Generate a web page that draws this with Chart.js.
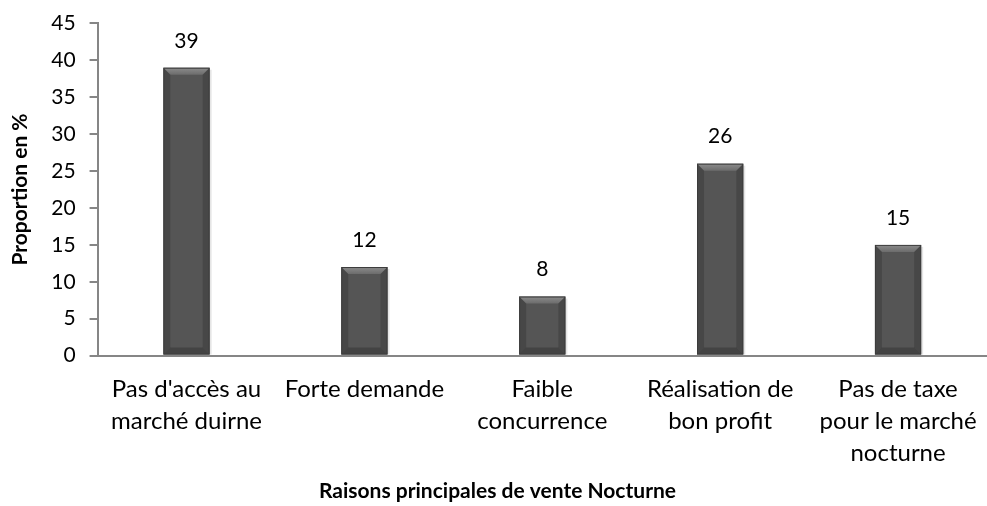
<!doctype html>
<html lang="fr">
<head>
<meta charset="UTF-8">
<title>Raisons principales de vente Nocturne</title>
<script src="https://cdn.jsdelivr.net/npm/chart.js"></script>
<style>
  html, body { margin: 0; padding: 0; background: #fff; }
  #wrap { width: 987px; height: 506px; }
</style>
</head>
<body>
<div id="wrap"><canvas id="raisons" width="987" height="506"></canvas></div>
<script>
  const categories = [
    ["Pas d'accès au", "marché duirne"],
    ["Forte demande"],
    ["Faible", "concurrence"],
    ["Réalisation de", "bon profit"],
    ["Pas de taxe", "pour le marché", "nocturne"]
  ];
  const proportions = [39, 12, 8, 26, 15];

  const FONT = "Lato, 'Open Sans', sans-serif";

  // shading across the width of each bar
  function barFill(ctx) {
    const el = ctx.element;
    const c = ctx.chart.ctx;
    if (!el || el.width === undefined) return '#555';
    const l = el.x - el.width / 2, r = el.x + el.width / 2;
    const g = c.createLinearGradient(l, 0, r, 0);
    g.addColorStop(0, '#3a3a3a');
    g.addColorStop(0.14, '#565656');
    g.addColorStop(0.5, '#5e5e5e');
    g.addColorStop(0.86, '#565656');
    g.addColorStop(1, '#3a3a3a');
    return g;
  }

  // bevelled edges plus the value above each bar
  const bevelAndLabels = {
    id: 'bevelAndLabels',
    afterDatasetsDraw(chart) {
      const c = chart.ctx;
      const meta = chart.getDatasetMeta(0);
      meta.data.forEach((bar, i) => {
        const l = bar.x - bar.width / 2, r = bar.x + bar.width / 2;
        const t = bar.y, b = bar.base;
        const d = 7;
        c.save();
        // soft shadow on the right
        c.fillStyle = 'rgba(0,0,0,0.10)';
        c.fillRect(r, t + 2, 2, b - t - 2);
        // top facet
        let g = c.createLinearGradient(0, t, 0, t + d);
        g.addColorStop(0, '#8c8c8c');
        g.addColorStop(1, '#6c6c6c');
        c.fillStyle = g;
        c.beginPath();
        c.moveTo(l, t); c.lineTo(r, t); c.lineTo(r - d, t + d); c.lineTo(l + d, t + d);
        c.closePath(); c.fill();
        // bottom facet
        c.fillStyle = 'rgba(40,40,40,0.40)';
        c.beginPath();
        c.moveTo(l, b); c.lineTo(r, b); c.lineTo(r - d, b - d); c.lineTo(l + d, b - d);
        c.closePath(); c.fill();
        // side facets
        c.fillStyle = 'rgba(30,30,30,0.25)';
        c.beginPath();
        c.moveTo(l, t); c.lineTo(l + d, t + d); c.lineTo(l + d, b - d); c.lineTo(l, b);
        c.closePath(); c.fill();
        c.beginPath();
        c.moveTo(r, t); c.lineTo(r - d, t + d); c.lineTo(r - d, b - d); c.lineTo(r, b);
        c.closePath(); c.fill();
        // outline
        c.strokeStyle = '#3c3c3c';
        c.lineWidth = 1;
        c.strokeRect(l + 0.5, t + 0.5, r - l - 1, b - t - 1);
        // value
        c.fillStyle = '#000';
        c.font = '21px ' + FONT;
        c.textAlign = 'center';
        c.textBaseline = 'middle';
        c.fillText(String(proportions[i]), bar.x, t - 27);
        c.restore();
      });
    }
  };

  new Chart(document.getElementById('raisons'), {
    type: 'bar',
    data: {
      labels: categories,
      datasets: [{
        data: proportions,
        backgroundColor: barFill,
        borderWidth: 0,
        categoryPercentage: 1,
        barPercentage: 0.26
      }]
    },
    options: {
      responsive: false,
      animation: false,
      layout: { padding: { top: 10, right: 0, left: 8, bottom: 2 } },
      plugins: {
        legend: { display: false },
        tooltip: { enabled: false },
        title: {
          display: true,
          position: 'bottom',
          text: 'Raisons principales de vente Nocturne',
          color: '#000',
          font: { family: FONT, size: 21, weight: 'bold' },
          padding: { top: 0, bottom: 0 }
        }
      },
      scales: {
        x: {
          grid: { display: false },
          border: { display: true, color: '#868686', width: 2 },
          ticks: {
            color: '#000',
            font: { family: FONT, size: 24, lineHeight: 1.35 },
            maxRotation: 0,
            autoSkip: false,
            padding: 9
          }
        },
        y: {
          min: 0,
          max: 45,
          ticks: {
            stepSize: 5,
            color: '#000',
            font: { family: FONT, size: 21, lineHeight: 0.9 },
            padding: 14
          },
          grid: {
            drawOnChartArea: false,
            drawTicks: true,
            tickLength: 8,
            color: '#868686',
            lineWidth: 2
          },
          border: { display: true, color: '#868686', width: 2 },
          title: {
            display: true,
            text: 'Proportion en %',
            color: '#000',
            font: { family: FONT, size: 21, weight: 'bold' },
            padding: { top: 0, bottom: 4 }
          }
        }
      }
    },
    plugins: [bevelAndLabels]
  });
</script>
</body>
</html>
